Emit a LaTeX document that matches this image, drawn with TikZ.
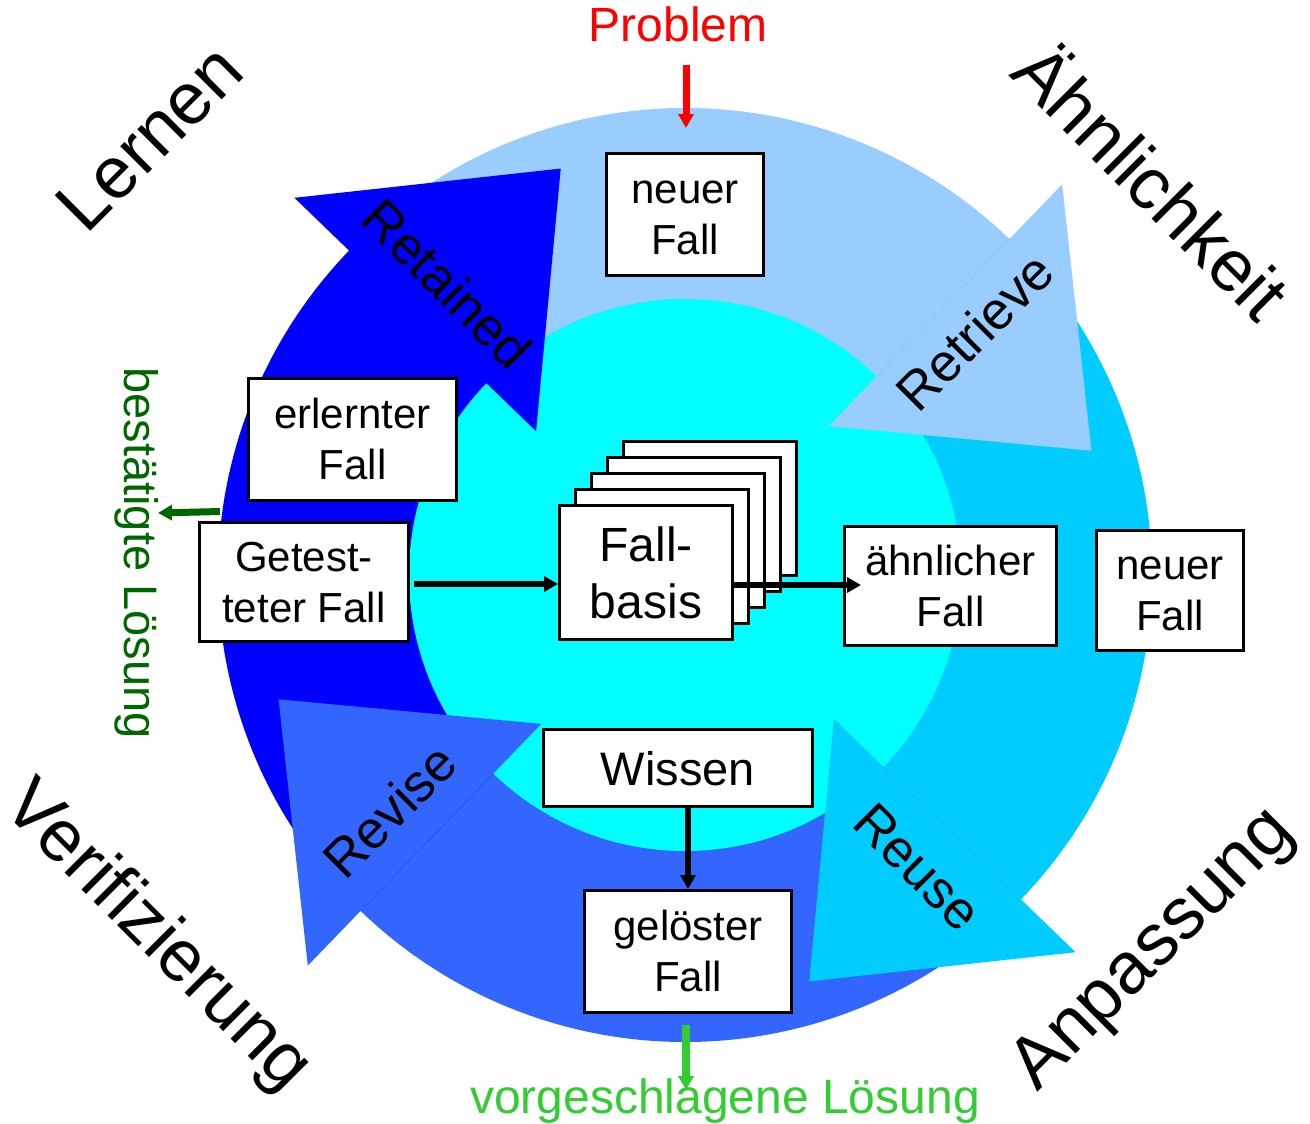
\documentclass[tikz,border=0pt]{standalone}
\usepackage{fontspec}
\setmainfont{Liberation Sans}
\usetikzlibrary{arrows.meta,calc}
\definecolor{cLight}{HTML}{99CCFF}
\definecolor{cSky}{HTML}{00CCFF}
\definecolor{cMid}{HTML}{3366FF}
\definecolor{cDark}{HTML}{0000FF}
\definecolor{cInner}{HTML}{00FFFF}
\definecolor{cRed}{HTML}{FF0000}
\definecolor{cGreen}{HTML}{33CC33}
\definecolor{cDGreen}{HTML}{006600}
\newcommand{\fsz}[2]{\fontsize{#1pt}{#2pt}\selectfont}
\begin{document}
\begin{tikzpicture}[x=1pt,y=1pt,
  box/.style={draw=black, fill=white, line width=3pt, inner sep=0pt, align=center,
              font={\fsz{42}{51}}, text height=80pt, text depth=0pt},
  arr/.style={line width=6pt, -{Triangle[length=14pt,width=15pt]}},
  big/.style={font={\fsz{73}{80}}, anchor=base, inner sep=0pt},
  mid/.style={font={\fsz{53}{60}}, anchor=base, inner sep=0pt},
  plain/.style={anchor=base, inner sep=0pt}
]
\useasboundingbox (0,0) rectangle (1310,-1124);
\coordinate (C) at (685,-575);
% ring bodies
\foreach \a/\b/\col in {136/46/cLight, 46/-44/cSky, -44/-134/cMid, -134/-224/cDark} {
  \fill[\col] ($(C)+(\a:467)$) arc[start angle=\a, end angle=\b-1, radius=467]
     -- ($(C)+(\b-1:275)$) arc[start angle=\b-1, end angle=\a, radius=275] -- cycle;
}
% inner disc
\fill[cInner] (C) circle[radius=276];
% arrow heads
\foreach \a/\col in {136/cDark, 46/cLight, -44/cSky, -134/cMid} {
  \fill[\col] ($(C)+(\a:543)$) -- ($(C)+(\a-29:425)$) -- ($(C)+(\a:207)$) -- cycle;
}
% labels on arrows
\node[mid, rotate=-45] (lRetained) at (434,-297) {Retained};
\node[mid, rotate=45] (lRetrieve) at (988,-345) {Retrieve};
\node[mid, rotate=-45] (lReuse) at (905,-880) {Reuse};
\node[mid, rotate=45] (lRevise) at (403,-824) {Revise};
% big labels
\node[big, rotate=45] (lLernen) at (167,-155) {Lernen};
\node[big, rotate=-45] (lAehn) at (1133,-200) {Ähnlichkeit};
\node[big, rotate=-45] (lVerif) at (143,-951) {Verifizierung};
\node[big, rotate=45] (lAnp) at (1167,-963) {Anpassung};
% boxes
\node[box, minimum width=157pt, minimum height=122pt] (neu1) at (685,-214.5) {neuer\\Fall};
\node[box, minimum width=208pt, minimum height=122pt] (erl) at (352.5,-439.5) {erlernter\\Fall};
\node[box, minimum width=209pt, minimum height=119pt] (get) at (304,-582) {Getest-\\teter Fall};
\foreach \k in {4,3,2,1} {
  \node[box, minimum width=173pt, minimum height=134pt] (fb\k) at (646+16*\k,-572.5+16*\k) {};
}
\node[box, minimum width=173pt, minimum height=134pt, font={\fsz{48}{57}},
      text height=91pt, text depth=0pt] (fb) at (646,-572.5) {Fall-\\basis};
\node[box, minimum width=212pt, minimum height=119pt] (aeh) at (950.5,-586) {ähnlicher\\Fall};
\node[box, minimum width=147pt, minimum height=120pt] (neu2) at (1170,-590.5) {neuer\\Fall};
\node[box, minimum width=269pt, minimum height=77pt, font={\fsz{47}{55}},
      text height=34pt, text depth=0pt] (wis) at (678,-768) {Wissen};
\node[box, minimum width=207pt, minimum height=122pt] (gel) at (688,-951.5) {gelöster\\Fall};
% inner connectors
\draw[arr] ([xshift=4pt,yshift=-2pt]get.east) -- ([yshift=-11.5pt]fb.west);
\draw[arr] ([yshift=-12.5pt]fb.east) -- ([xshift=18pt,yshift=1pt]aeh.west);
\draw[arr] (wis.south -| gel.north) -- (gel.north);
% Problem
\node[plain, font={\fsz{48}{55}}, text=cRed] (prob) at (678,-42) {Problem};
\coordinate (probEnd) at (686,-128);
\draw[arr, cRed, line width=7pt] ($(prob.base)+(8,-23)$) -- (probEnd);
% proposed solution
\node[plain, font={\fsz{48}{55}}, text=cGreen] (vor) at (725,-1113) {vorgeschlagene Lösung};
\draw[arr, cGreen, line width=8pt] ($(gel.south)+(-2,-11)$) -- ($(vor.base)+(-39,23)$);
% confirmed solution
\node[plain, font={\fsz{47}{52}}, text=cDGreen, rotate=-90] (best) at (124,-553) {bestätigte Lösung};
\draw[arr, cDGreen, line width=7pt] ($(get.north west)+(22,9.5)$) -- ($(best.base)+(34,40)$);
\end{tikzpicture}
\end{document}
